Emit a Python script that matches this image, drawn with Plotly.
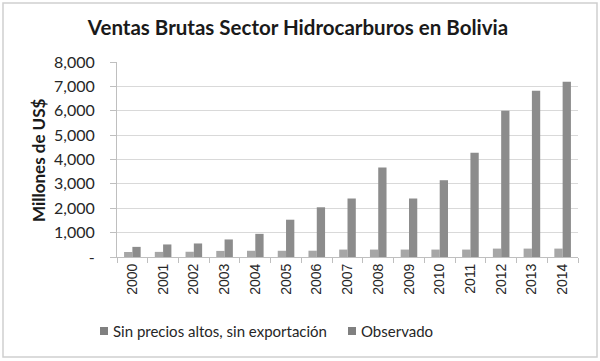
import plotly.graph_objects as go

years = [str(y) for y in range(2000, 2015)]
sin_precios = [205, 210, 215, 250, 255, 255, 258, 305, 305, 305, 305, 305, 345, 345, 345]
observado = [415, 515, 555, 720, 950, 1530, 2040, 2400, 3670, 2400, 3150, 4280, 6000, 6820, 7190]
y_tickvals = [0, 1000, 2000, 3000, 4000, 5000, 6000, 7000, 8000]
y_ticktext = ["-", "1,000", "2,000", "3,000", "4,000", "5,000", "6,000", "7,000", "8,000"]
series_names = ["Sin precios altos, sin exportación", "Observado"]
series_colors = ["#a6a6a6", "#8c8c8c"]

FONT = "Lato"
fig = go.Figure()
for name, vals, col in zip(series_names, [sin_precios, observado], series_colors):
    fig.add_trace(go.Bar(x=years, y=vals, name=name, showlegend=False,
                         marker=dict(color=col, line=dict(width=0))))

W, H = 600, 361
L, R, T, B = 117, 22, 62, 104
pw, ph = W - L - R, H - T - B

def px_x(x):
    return (x - L) / pw

def px_y(y):
    return (H - B - y) / ph

fig.update_layout(
    width=W, height=H,
    margin=dict(l=L, r=R, t=T, b=B),
    paper_bgcolor="white", plot_bgcolor="white",
    barmode="group", bargap=0.46, bargroupgap=0,
    font=dict(family=FONT, size=14, color="#262626"),
    title=dict(text="<b>Ventas Brutas Sector Hidrocarburos en Bolivia</b>",
               x=298 / W, xanchor="center", y=1 - 28 / H, yanchor="middle",
               font=dict(family=FONT, size=20.5, color="#1a1a1a")),
    showlegend=False,
    xaxis=dict(type="category", tickangle=-90, tickson="boundaries",
               ticks="outside", ticklen=5, tickcolor="#bfbfbf",
               showline=True, linecolor="#bfbfbf", linewidth=1,
               showgrid=False,
               tickfont=dict(family="Liberation Sans", size=14, color="#262626")),
    yaxis=dict(range=[0, 8000], tickvals=y_tickvals, ticktext=y_ticktext,
               ticks="outside", ticklen=6, tickcolor="#bfbfbf",
               showline=True, linecolor="#bfbfbf", linewidth=1,
               showgrid=True, gridcolor="#d9d9d9", gridwidth=1,
               zeroline=False, ticklabelstandoff=12,
               tickfont=dict(family=FONT, size=16, color="#262626")),
)

# legend: squares + text
legend_x = [100, 348]
for name, lx in zip(series_names, legend_x):
    fig.add_shape(type="rect", xref="paper", yref="paper",
                  x0=px_x(lx), x1=px_x(lx + 8), y0=px_y(335), y1=px_y(327),
                  line=dict(width=0), fillcolor="#808080")
    fig.add_annotation(text=name, xref="paper", yref="paper",
                       x=px_x(lx + 11), y=px_y(331),
                       xanchor="left", yanchor="middle", showarrow=False,
                       font=dict(family=FONT, size=15, color="#262626"))

fig.add_annotation(text="<b>Millones de US$</b>", textangle=-90,
                   xref="paper", yref="paper",
                   x=px_x(38), y=px_y(160),
                   xanchor="center", yanchor="middle", showarrow=False,
                   font=dict(family=FONT, size=17, color="#1a1a1a"))

# outer chart border
fig.add_shape(type="rect", xref="paper", yref="paper",
              x0=px_x(3), x1=px_x(597), y0=px_y(357), y1=px_y(3),
              line=dict(color="#d0d0d0", width=1.5), fillcolor="rgba(0,0,0,0)",
              layer="below")

fig.write_html("out.html", config={"displayModeBar": False},
               post_script="document.body.style.margin='0';document.body.style.overflow='hidden';")
